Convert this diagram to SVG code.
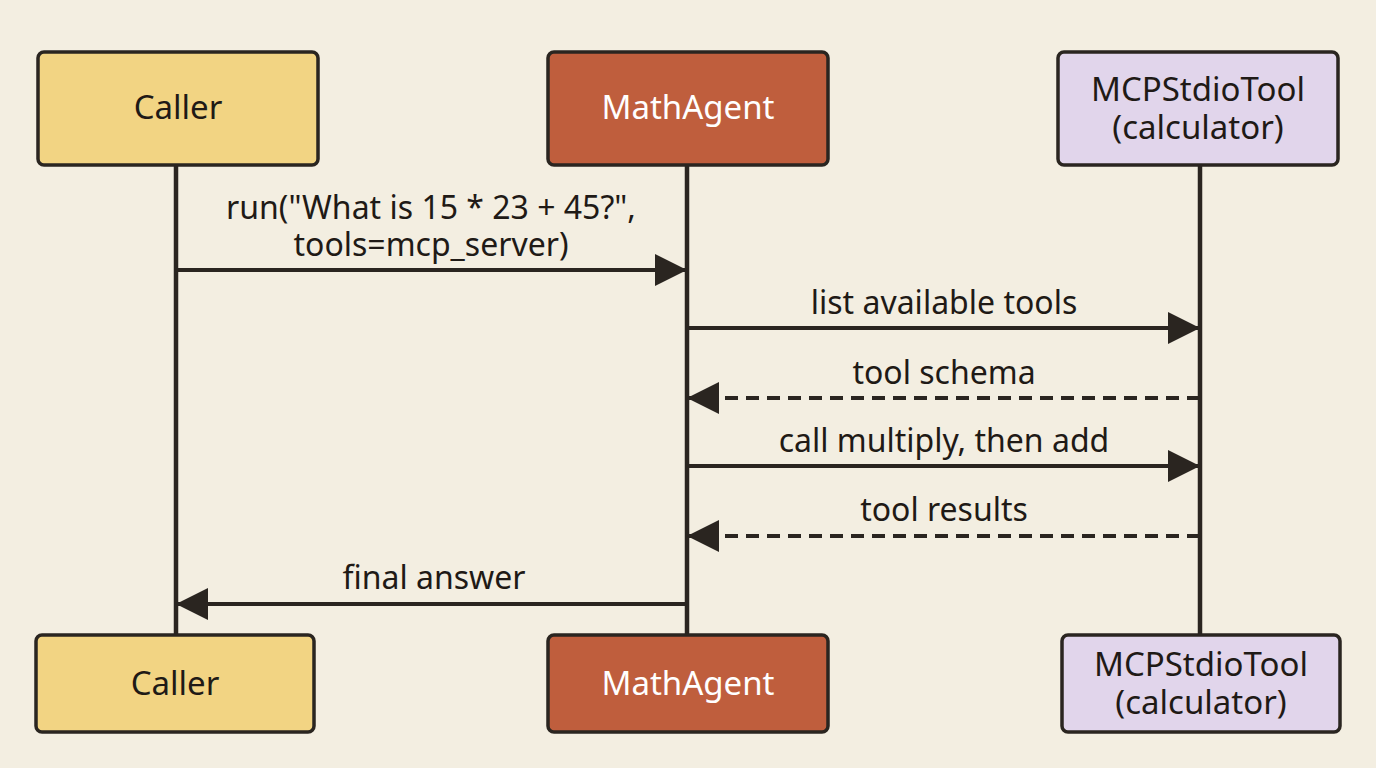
<svg xmlns="http://www.w3.org/2000/svg" width="1376" height="768" viewBox="0 0 1376 768">
<defs>
<marker id="a" viewBox="0 0 10 10" refX="10" refY="5" markerWidth="32" markerHeight="34" markerUnits="userSpaceOnUse" orient="auto"><path d="M0,0 L10,5 L0,10 z" fill="#2a2520"/></marker>
</defs>
<style>
.box{stroke:#2a2520;stroke-width:3.5}
.t{font-family:"Noto Sans","Open Sans",sans-serif;font-size:33px;fill:#1f1a16;text-anchor:middle}
.w{fill:#fff}
.life{stroke:#2a2520;stroke-width:4.5}
.m{stroke:#2a2520;stroke-width:4;fill:none;marker-end:url(#a)}
.d{stroke-dasharray:13 8}
.l{font-family:"Noto Sans","Open Sans",sans-serif;font-size:32px;fill:#1f1a16;text-anchor:middle}
</style>
<rect width="1376" height="768" fill="#F3EEE1"/>
<g id="lifelines">
<line class="life" x1="176" y1="165" x2="176" y2="635"/>
<line class="life" x1="687" y1="165" x2="687" y2="635"/>
<line class="life" x1="1200" y1="165" x2="1200" y2="635"/>
</g>
<g id="caller-top"><rect class="box" x="38" y="52" width="280" height="113" rx="6" fill="#F2D483"/><text class="t" x="178" y="119">Caller</text></g>
<g id="agent-top"><rect class="box" x="548" y="52" width="280" height="113" rx="6" fill="#BF5E3D"/><text class="t w" x="688" y="119">MathAgent</text></g>
<g id="tool-top"><rect class="box" x="1058" y="52" width="280" height="113" rx="6" fill="#E1D5EB"/><text class="t" x="1198" y="101">MCPStdioTool</text><text class="t" x="1198" y="139">(calculator)</text></g>
<g id="caller-bottom"><rect class="box" x="36" y="635" width="278" height="97" rx="6" fill="#F2D483"/><text class="t" x="175" y="695">Caller</text></g>
<g id="agent-bottom"><rect class="box" x="548" y="635" width="280" height="97" rx="6" fill="#BF5E3D"/><text class="t w" x="688" y="695">MathAgent</text></g>
<g id="tool-bottom"><rect class="box" x="1062" y="635" width="278" height="97" rx="6" fill="#E1D5EB"/><text class="t" x="1201" y="676">MCPStdioTool</text><text class="t" x="1201" y="714">(calculator)</text></g>
<g id="connectors">
<line class="m" x1="176" y1="270" x2="687" y2="270"/>
<line class="m" x1="687" y1="328" x2="1200" y2="328"/>
<line class="m d" x1="1200" y1="398" x2="687" y2="398"/>
<line class="m" x1="687" y1="466" x2="1200" y2="466"/>
<line class="m d" x1="1200" y1="536" x2="687" y2="536"/>
<line class="m" x1="687" y1="604" x2="176" y2="604"/>
</g>
<g id="labels">
<text class="l" x="431" y="219">run("What is 15 * 23 + 45?",</text>
<text class="l" x="431" y="256">tools=mcp_server)</text>
<text class="l" x="944" y="314">list available tools</text>
<text class="l" x="944" y="384">tool schema</text>
<text class="l" x="944" y="452">call multiply, then add</text>
<text class="l" x="944" y="521">tool results</text>
<text class="l" x="434" y="589">final answer</text>
</g>
</svg>
